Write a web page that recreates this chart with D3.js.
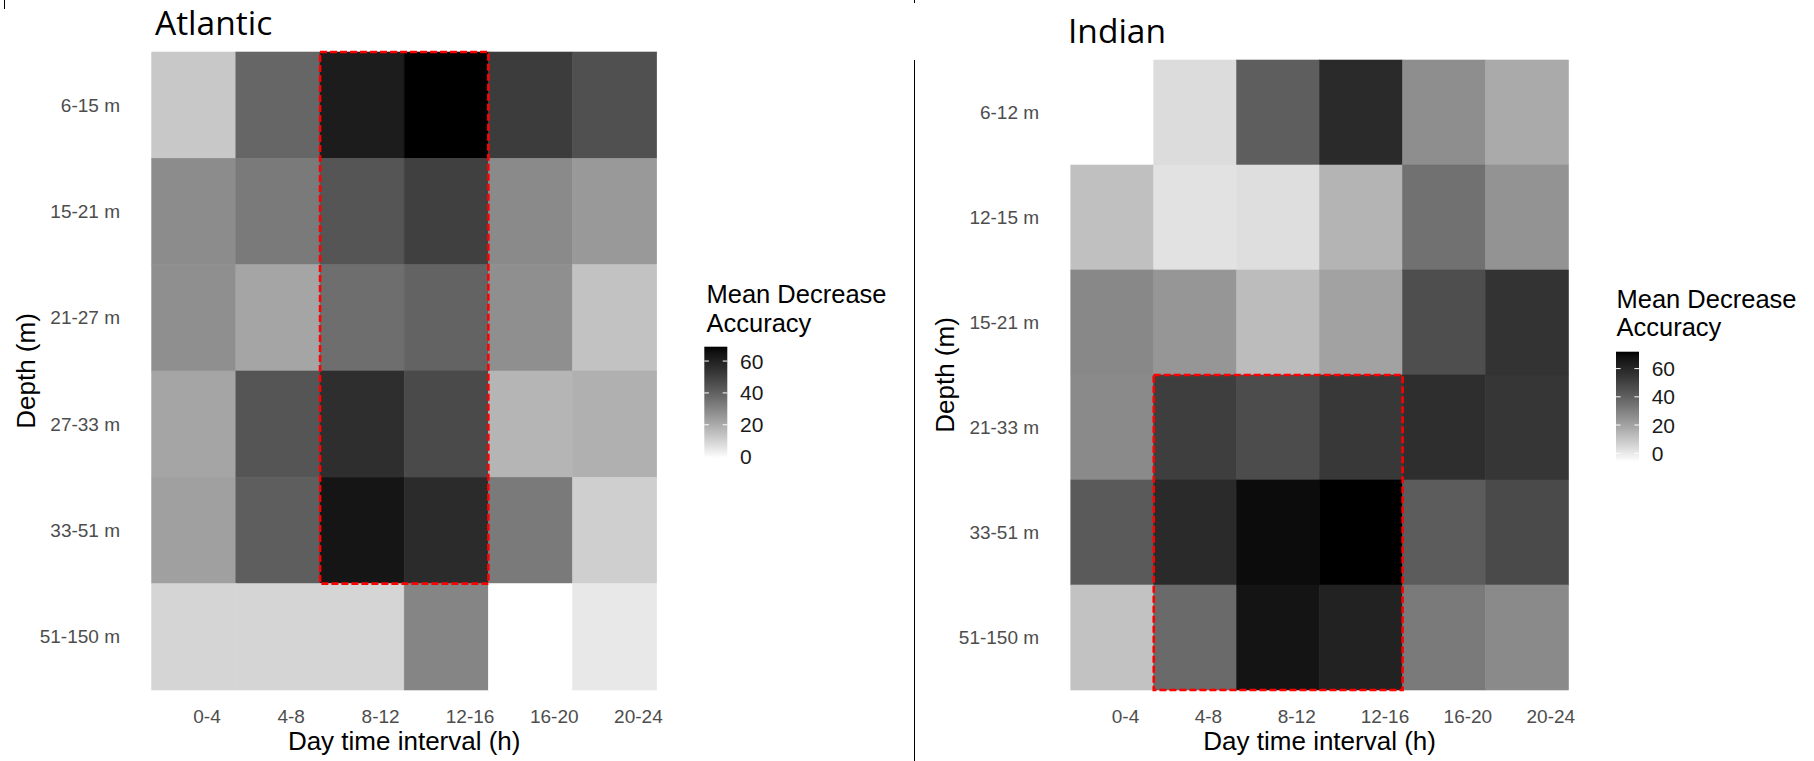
<!DOCTYPE html>
<html>
<head>
<meta charset="utf-8">
<script src="https://cdn.jsdelivr.net/npm/d3@7"></script>
<style>
  body { margin: 0; background: #ffffff; }
  svg { display: block; }
  text { font-family: "Liberation Sans", Arial, sans-serif; }
</style>
</head>
<body>
<svg id="fig" width="1814" height="761"></svg>
<script>
// Day time intervals (columns) shared by both oceans
const hours = ["0-4", "4-8", "8-12", "12-16", "16-20", "20-24"];

// Depth classes (rows)
const atlanticDepths = ["6-15 m", "15-21 m", "21-27 m", "27-33 m", "33-51 m", "51-150 m"];
const indianDepths = ["6-12 m", "12-15 m", "15-21 m", "21-33 m", "33-51 m", "51-150 m"];

// Mean decrease accuracy, one row per depth class, one value per interval
const atlanticValues = [
  [12.6, 38.8, 61.8, 69.0, 51.3, 45.2],
  [28.2, 33.2, 43.7, 50.0, 28.8, 24.8],
  [27.4, 21.5, 36.5, 39.6, 27.4, 14.1],
  [21.5, 43.7, 55.8, 47.0, 17.4, 18.7],
  [22.9, 41.1, 64.2, 56.8, 33.2, 10.8],
  [9.3, 9.3, 9.3, 30.2, -1.0, 4.6]
];
const indianValues = [
  [-6.0, 3.5, 40.9, 58.7, 26.0, 17.7],
  [11.4, 1.9, 3.0, 14.8, 34.9, 24.5],
  [27.8, 23.6, 12.5, 20.0, 46.1, 55.5],
  [27.2, 51.6, 46.7, 53.7, 57.3, 54.4],
  [42.2, 58.7, 69.4, 72.0, 41.5, 47.4],
  [10.8, 37.1, 67.1, 61.7, 32.1, 27.2]
];

// Fill scale limits
const atlanticRange = [-1, 69];
const indianRange = [-6, 72];

// Highlighted blocks (first/last interval, first/last depth)
const atlanticBox = { cols: ["8-12", "12-16"], rows: ["6-15 m", "33-51 m"] };
const indianBox = { cols: ["4-8", "12-16"], rows: ["21-33 m", "51-150 m"] };

const legendTicks = [0, 20, 40, 60];

const svg = d3.select("#fig");
const defs = svg.append("defs");

function drawPanel(p) {
  const g = svg.append("g").attr("class", "panel-" + p.id);

  const x = d3.scaleBand().domain(hours).range([p.x0, p.x1]);
  const y = d3.scaleBand().domain(p.depths).range([p.y0, p.y1]);
  const color = d3.scaleLinear()
    .domain(p.range)
    .range(["#ffffff", "#000000"])
    .interpolate(d3.interpolateLab);

  const cells = p.depths.flatMap((d, i) =>
    hours.map((h, j) => ({ depth: d, hour: h, value: p.values[i][j] })));

  // heatmap tiles
  g.append("g").selectAll("rect")
    .data(cells)
    .join("rect")
    .attr("x", c => x(c.hour))
    .attr("y", c => y(c.depth))
    .attr("width", x.bandwidth())
    .attr("height", y.bandwidth())
    .attr("fill", c => color(c.value))
    .attr("stroke", c => color(c.value))
    .attr("stroke-width", 0.6);

  // highlighted block
  const bx0 = x(p.box.cols[0]);
  const bx1 = x(p.box.cols[1]) + x.bandwidth();
  const by0 = y(p.box.rows[0]);
  const by1 = y(p.box.rows[1]) + y.bandwidth();
  g.append("rect")
    .attr("x", bx0)
    .attr("y", by0)
    .attr("width", bx1 - bx0)
    .attr("height", by1 - by0)
    .attr("fill", "none")
    .attr("stroke", "#ff0000")
    .attr("stroke-width", 2.6)
    .attr("stroke-dasharray", "7,3");

  // x axis
  const xAxis = g.append("g")
    .attr("transform", `translate(0,${p.y1})`)
    .call(d3.axisBottom(x).tickSize(0).tickPadding(20));
  xAxis.select(".domain").remove();
  xAxis.selectAll("text")
    .attr("text-anchor", "start")
    .attr("x", -0.5)
    .attr("fill", "#4d4d4d")
    .style("font-size", "19px");

  // y axis
  const yAxis = g.append("g")
    .attr("transform", `translate(${p.x0},0)`)
    .call(d3.axisLeft(y).tickSize(0).tickPadding(31.7));
  yAxis.select(".domain").remove();
  yAxis.selectAll("text")
    .attr("fill", "#4d4d4d")
    .attr("dy", "0.35em")
    .style("font-size", "19px");

  // axis titles
  g.append("text")
    .attr("x", (p.x0 + p.x1) / 2)
    .attr("y", 750)
    .attr("text-anchor", "middle")
    .attr("fill", "#000")
    .style("font-size", "26px")
    .text("Day time interval (h)");

  g.append("text")
    .attr("transform", `translate(${p.yTitleX},${(p.y0 + p.y1) / 2}) rotate(-90)`)
    .attr("text-anchor", "middle")
    .attr("fill", "#000")
    .style("font-size", "26px")
    .text("Depth (m)");

  // panel title
  g.append("text")
    .attr("x", p.titleX)
    .attr("y", p.titleY)
    .attr("fill", "#000")
    .style("font-family", "'Open Sans', sans-serif")
    .style("font-size", "33.5px")
    .text(p.title);

  // colour bar legend
  const L = p.legend;
  const ly = d3.scaleLinear().domain(p.range).range([L.y1, L.y0]);
  const gradId = "grad-" + p.id;
  const grad = defs.append("linearGradient")
    .attr("id", gradId)
    .attr("x1", 0).attr("y1", 1).attr("x2", 0).attr("y2", 0);
  d3.range(0, 1.0001, 0.05).forEach(t => {
    grad.append("stop")
      .attr("offset", t)
      .attr("stop-color", color(p.range[0] + t * (p.range[1] - p.range[0])));
  });

  const lg = g.append("g");
  lg.append("text")
    .attr("x", L.x)
    .attr("y", L.titleY)
    .attr("fill", "#000")
    .style("font-size", "25.5px")
    .text("Mean Decrease");
  lg.append("text")
    .attr("x", L.x)
    .attr("y", L.titleY + L.lineGap)
    .attr("fill", "#000")
    .style("font-size", "25.5px")
    .text("Accuracy");

  lg.append("rect")
    .attr("x", L.barX)
    .attr("y", ly(p.range[1]))
    .attr("width", L.barW)
    .attr("height", ly(p.range[0]) - ly(p.range[1]))
    .attr("fill", `url(#${gradId})`);

  const tk = L.barW / 5;
  lg.selectAll("line.tl")
    .data(legendTicks)
    .join("line")
    .attr("class", "tl")
    .attr("x1", L.barX).attr("x2", L.barX + tk)
    .attr("y1", d => ly(d)).attr("y2", d => ly(d))
    .attr("stroke", "#ffffff").attr("stroke-width", 1);
  lg.selectAll("line.tr")
    .data(legendTicks)
    .join("line")
    .attr("class", "tr")
    .attr("x1", L.barX + L.barW - tk).attr("x2", L.barX + L.barW)
    .attr("y1", d => ly(d)).attr("y2", d => ly(d))
    .attr("stroke", "#ffffff").attr("stroke-width", 1);
  lg.selectAll("text.tick-label")
    .data(legendTicks)
    .join("text")
    .attr("class", "tick-label")
    .attr("x", L.barX + L.barW + 12.7)
    .attr("y", d => ly(d))
    .attr("dy", "0.36em")
    .attr("fill", "#1a1a1a")
    .style("font-size", "21px")
    .text(d => d);
}

drawPanel({
  id: "atlantic",
  title: "Atlantic",
  titleX: 155, titleY: 35,
  depths: atlanticDepths,
  values: atlanticValues,
  range: atlanticRange,
  box: atlanticBox,
  x0: 151.7, x1: 656.7, y0: 52, y1: 690,
  yTitleX: 35,
  legend: { x: 706.5, titleY: 303.3, lineGap: 28.4, barX: 704.3, barW: 23, y0: 346.7, y1: 458.3 }
});

drawPanel({
  id: "indian",
  title: "Indian",
  titleX: 1068, titleY: 43.3,
  depths: indianDepths,
  values: indianValues,
  range: indianRange,
  box: indianBox,
  x0: 1070.8, x1: 1568.5, y0: 60, y1: 690,
  yTitleX: 953.5,
  legend: { x: 1616.5, titleY: 308.3, lineGap: 27.7, barX: 1616, barW: 23, y0: 351.7, y1: 461.7 }
});

// separators between the two figures
svg.append("line")
  .attr("x1", 914.5).attr("x2", 914.5).attr("y1", 60).attr("y2", 761)
  .attr("stroke", "#000").attr("stroke-width", 1);
svg.append("line")
  .attr("x1", 914.5).attr("x2", 914.5).attr("y1", 0).attr("y2", 3)
  .attr("stroke", "#000").attr("stroke-width", 1);
svg.append("line")
  .attr("x1", 4.5).attr("x2", 4.5).attr("y1", 0).attr("y2", 9)
  .attr("stroke", "#000").attr("stroke-width", 1);
</script>
</body>
</html>
